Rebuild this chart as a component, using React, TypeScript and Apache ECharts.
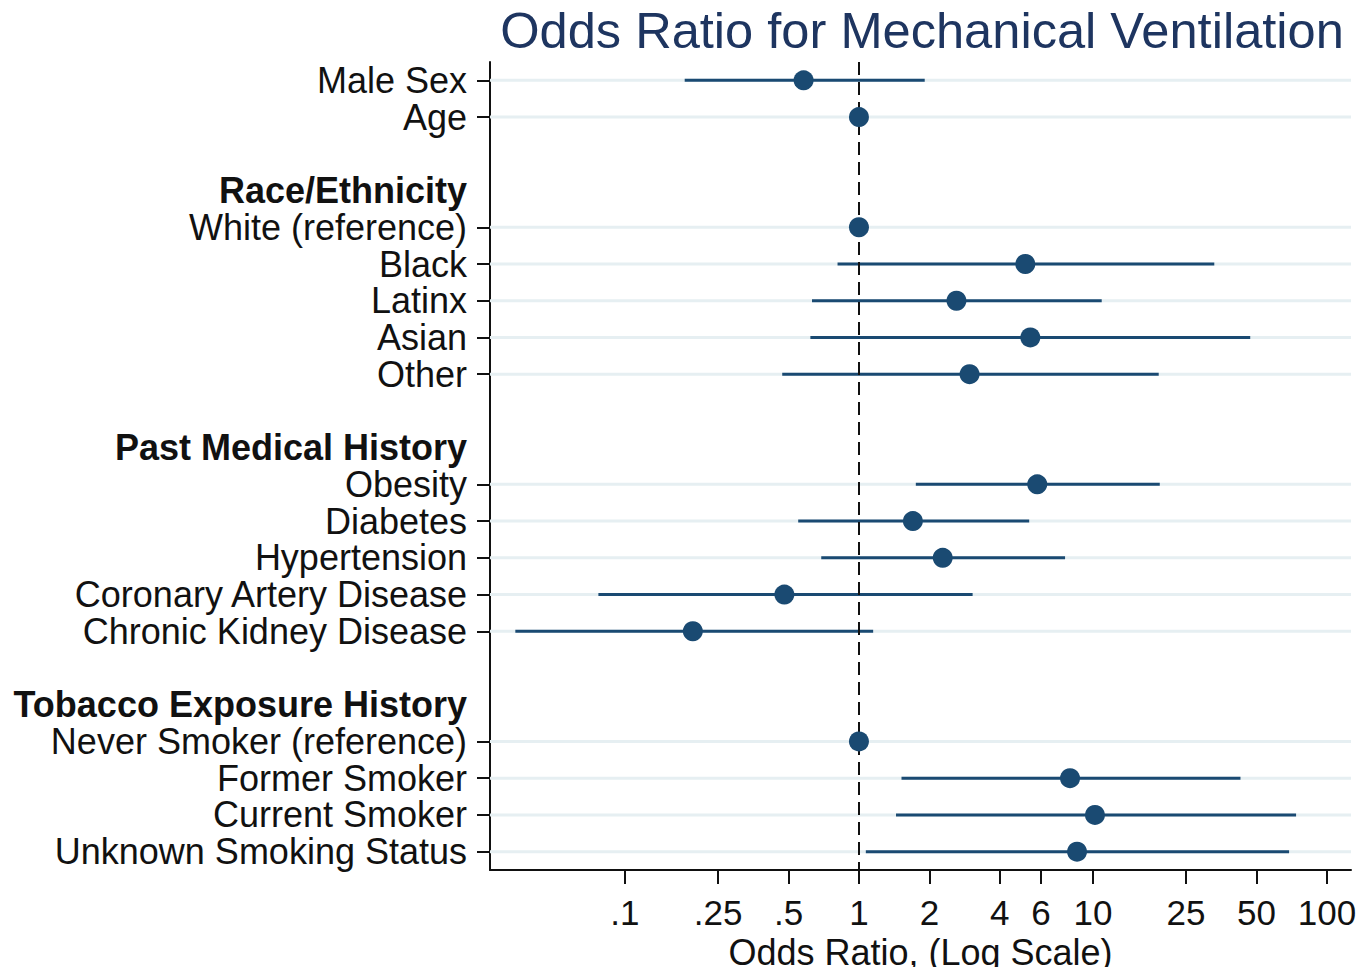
import React, { useEffect, useRef } from "react";
import * as echarts from "echarts";

const rowLabels = [
  "Male Sex", "Age", "", "Race/Ethnicity", "White (reference)", "Black", "Latinx", "Asian", "Other",
  "", "Past Medical History", "Obesity", "Diabetes", "Hypertension", "Coronary Artery Disease",
  "Chronic Kidney Disease", "", "Tobacco Exposure History", "Never Smoker (reference)",
  "Former Smoker", "Current Smoker", "Unknown Smoking Status",
];
const headerRows = ["Race/Ethnicity", "Past Medical History", "Tobacco Exposure History"];
const estimateRows = [
  "Male Sex", "Age", "White (reference)", "Black", "Latinx", "Asian", "Other",
  "Obesity", "Diabetes", "Hypertension", "Coronary Artery Disease", "Chronic Kidney Disease",
  "Never Smoker (reference)", "Former Smoker", "Current Smoker", "Unknown Smoking Status",
];
const oddsRatios = [0.58, 1, 1, 5.14, 2.61, 5.4, 2.97, 5.78, 1.7, 2.28, 0.48, 0.195, 1, 7.98, 10.2, 8.55];
const ciLower = [0.18, 0.99, 1, 0.81, 0.63, 0.62, 0.47, 1.75, 0.55, 0.69, 0.077, 0.034, 1, 1.52, 1.44, 1.07];
const ciUpper = [1.91, 1.01, 1, 33.0, 10.9, 47, 19.1, 19.3, 5.34, 7.6, 3.06, 1.15, 1, 42.7, 73.8, 68.9];
const xTickValues = [0.1, 0.25, 0.5, 1, 2, 4, 6, 10, 25, 50, 100];
const xTickLabels = [".1", ".25", ".5", "1", "2", "4", "6", "10", "25", "50", "100"];
const xRangeMin = 0.0265;
const xRangeMax = 126.7;

const NAVY = "#1a4a72";
const FONT = "'Liberation Sans', Arial, Helvetica, sans-serif";

export default function App() {
  const ref = useRef<HTMLDivElement>(null);

  useEffect(() => {
    document.body.style.margin = "0";
    if (!ref.current) return;
    const chart = echarts.init(ref.current, null, { renderer: "svg" });
    const lg = (v: number) => Math.log10(v);
    const tickLogs = xTickValues.map(lg);
    const xLo = lg(xRangeMin);
    const xHi = lg(xRangeMax);

    const rowIndex = (r: string) => rowLabels.indexOf(r);
    const labelRows = rowLabels.map((r, i) => (r ? i : -1)).filter((i) => i >= 0);
    const tickRows = estimateRows.map(rowIndex);

    const barData = estimateRows.map((r, i) => [lg(ciLower[i]), lg(ciUpper[i]), rowIndex(r)]);
    const pointData = estimateRows.map((r, i) => [lg(oddsRatios[i]), rowIndex(r)]);
    const gridData = tickRows.map((row) => [xLo, xHi, row]);

    const hLine = (color: string, width: number) => (_params: any, api: any) => {
      const a = api.coord([api.value(0), api.value(2)]);
      const b = api.coord([api.value(1), api.value(2)]);
      return {
        type: "line",
        shape: { x1: a[0], y1: a[1], x2: b[0], y2: b[1] },
        style: { stroke: color, lineWidth: width },
      };
    };

    chart.setOption({
      animation: false,
      backgroundColor: "#ffffff",
      textStyle: { fontFamily: FONT },
      title: {
        text: "Odds Ratio for Mechanical Ventilation",
        left: 917,
        textAlign: "center",
        top: 0,
        textStyle: { fontFamily: FONT, fontSize: 50.6, fontWeight: "normal", color: "#1e3560" },
      },
      grid: { left: 490, right: 21, top: 62, bottom: 97, containLabel: false, outerBoundsMode: "none" },
      xAxis: {
        type: "value",
        min: xLo,
        max: xHi,
        name: "Odds Ratio, (Log Scale)",
        nameLocation: "middle",
        nameGap: 55,
        nameTextStyle: { fontFamily: FONT, fontSize: 36, lineHeight: 36, color: "#111" },
        axisLine: { show: true, onZero: false, lineStyle: { color: "#111", width: 2 } },
        axisTick: {
          show: true,
          length: 14,
          customValues: tickLogs,
          lineStyle: { color: "#111", width: 2 },
        },
        axisLabel: {
          customValues: tickLogs,
          margin: 25,
          fontFamily: FONT,
          fontSize: 35,
          color: "#111",
          formatter: (v: number) => {
            let best = 0;
            tickLogs.forEach((t, i) => {
              if (Math.abs(t - v) < Math.abs(tickLogs[best] - v)) best = i;
            });
            return xTickLabels[best];
          },
        },
        splitLine: { show: false },
      },
      yAxis: {
        type: "value",
        min: -0.5,
        max: rowLabels.length - 0.5,
        inverse: true,
        axisLine: { show: true, onZero: false, lineStyle: { color: "#111", width: 2 } },
        axisTick: {
          show: true,
          length: 13,
          customValues: tickRows,
          lineStyle: { color: "#111", width: 2 },
        },
        axisLabel: {
          customValues: labelRows,
          margin: 23,
          fontFamily: FONT,
          fontSize: 36,
          lineHeight: 34,
          color: "#111",
          formatter: (v: number) => {
            const name = rowLabels[Math.round(v)] || "";
            return headerRows.includes(name) ? `{b|${name}}` : name;
          },
          rich: { b: { fontFamily: FONT, fontSize: 36, lineHeight: 34, fontWeight: "bold", color: "#111" } },
        },
        splitLine: { show: false },
      },
      series: [
        {
          type: "custom",
          z: 1,
          silent: true,
          encode: { x: [0, 1], y: 2 },
          data: gridData,
          renderItem: hLine("#e6eff2", 3),
        },
        {
          type: "custom",
          z: 3,
          silent: true,
          encode: { x: [0, 1], y: 2 },
          data: barData,
          renderItem: hLine(NAVY, 3),
          markLine: {
            silent: true,
            symbol: "none",
            label: { show: false },
            lineStyle: { color: "#111", width: 2, type: [13, 7] },
            data: [{ xAxis: 0 }],
          },
        },
        {
          type: "scatter",
          z: 5,
          symbol: "circle",
          symbolSize: 20,
          itemStyle: { color: NAVY, opacity: 1 },
          data: pointData,
        },
      ],
    });
    return () => chart.dispose();
  }, []);

  return <div ref={ref} style={{ width: 1372, height: 967 }} />;
}
